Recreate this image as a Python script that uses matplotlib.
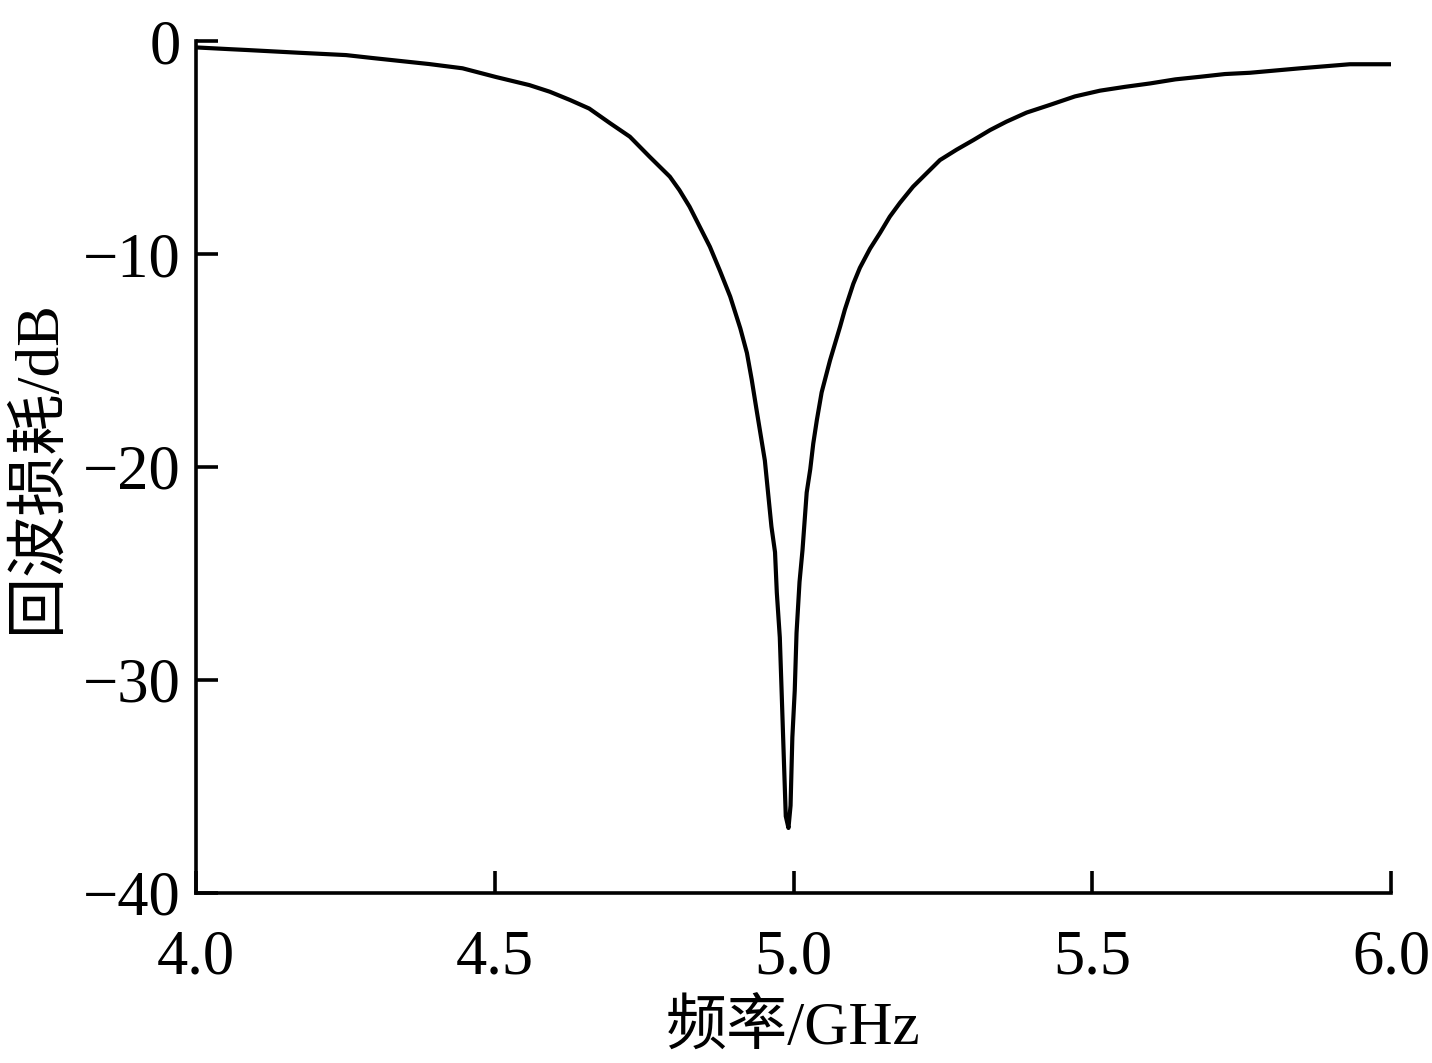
import matplotlib
matplotlib.use("Agg")
import matplotlib.pyplot as plt

freq = [4.000, 4.055, 4.084, 4.172, 4.251, 4.296, 4.390, 4.446, 4.502, 4.558,
        4.592, 4.626, 4.658, 4.693, 4.726, 4.759, 4.793, 4.809, 4.826, 4.843,
        4.860, 4.877, 4.894, 4.911, 4.922, 4.930, 4.938, 4.952, 4.963, 4.969,
        4.972, 4.977, 4.980, 4.984, 4.987, 4.9915, 4.995, 4.998, 5.002, 5.005,
        5.010, 5.015, 5.022, 5.028, 5.033, 5.039, 5.047, 5.061, 5.078, 5.086,
        5.100, 5.111, 5.128, 5.145, 5.161, 5.178, 5.200, 5.223, 5.245, 5.273,
        5.301, 5.329, 5.356, 5.390, 5.429, 5.471, 5.513, 5.555, 5.597, 5.639,
        5.680, 5.722, 5.764, 5.848, 5.931, 6.000]
s11 = [-0.30, -0.38, -0.42, -0.55, -0.66, -0.80, -1.08, -1.28, -1.69, -2.07,
       -2.38, -2.77, -3.17, -3.86, -4.49, -5.43, -6.37, -7.0, -7.78, -8.72,
       -9.66, -10.8, -12.0, -13.5, -14.65, -15.9, -17.3, -19.7, -22.8, -24.0,
       -25.9, -28.0, -30.5, -33.9, -36.4, -36.95, -35.9, -32.7, -30.5, -27.8,
       -25.4, -23.9, -21.2, -20.1, -18.9, -17.8, -16.5, -15.0, -13.4, -12.6,
       -11.4, -10.65, -9.75, -9.0, -8.25, -7.6, -6.84, -6.2, -5.59, -5.1,
       -4.65, -4.18, -3.79, -3.36, -3.0, -2.6, -2.33, -2.15, -1.99, -1.8,
       -1.68, -1.55, -1.49, -1.28, -1.09, -1.09]

xticks = [4.0, 4.5, 5.0, 5.5, 6.0]
xticklabels = ["4.0", "4.5", "5.0", "5.5", "6.0"]
yticks = [0, -10, -20, -30, -40]
yticklabels = ["0", "\u221210", "\u221220", "\u221230", "\u221240"]
xlabel = "频率/GHz"
ylabel = "回波损耗/dB"

fam = ["Liberation Serif", "Noto Sans CJK SC"]
plt.rcParams["font.family"] = fam

fig = plt.figure(figsize=(14.32, 10.63), dpi=100)
ax = fig.add_axes([0.1369, 0.16, 0.8345, 0.8014])
ax.plot(freq, s11, color="black", lw=3.0, solid_joinstyle="round")
ax.set_xlim(4.0, 6.0)
ax.set_ylim(-40, 0)
ax.set_xticks(xticks)
ax.set_xticklabels(xticklabels)
ax.set_yticks(yticks)
ax.set_yticklabels(yticklabels)
for s in ["top", "right"]:
    ax.spines[s].set_visible(False)
for s in ["left", "bottom"]:
    ax.spines[s].set_linewidth(2.6)
ax.tick_params(axis="both", direction="in", length=16, width=2.6, labelsize=45)
ax.tick_params(axis="y", pad=11)
ax.tick_params(axis="x", pad=26)
ax.set_xlabel(xlabel, fontsize=44, family=fam, labelpad=10)
ax.set_ylabel(ylabel, fontsize=44, family=fam, labelpad=12)

fig.savefig("out.png", dpi=100)
